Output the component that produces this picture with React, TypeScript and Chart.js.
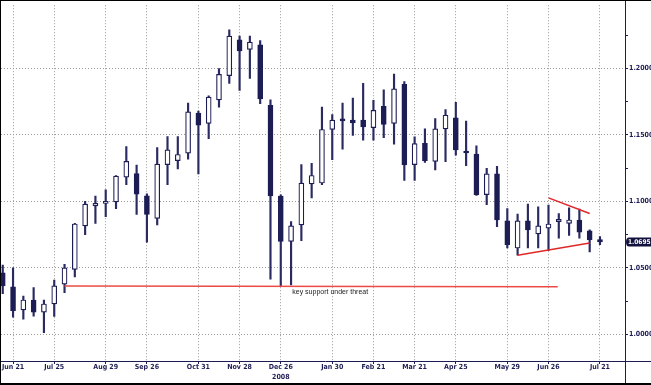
import React, { useEffect, useRef } from 'react';
import { Chart, registerables } from 'chart.js';

Chart.register(...registerables);

// ---- data ----
const TICK_INDEX = [1, 5, 10, 14, 19, 23, 27, 32, 36, 40, 44, 49, 53, 58];
const TICK_LABELS = ['Jun 21', 'Jul 25', 'Aug 29', 'Sep 26', 'Oct 31', 'Nov 28', 'Dec 26', 'Jan 30', 'Feb 21', 'Mar 21', 'Apr 25', 'May 29', 'Jun 26', 'Jul 21'];
const YEAR_LABEL = '2008';
const YEAR_INDEX = 27;
const Y_TICKS = [1.0, 1.025, 1.05, 1.075, 1.1, 1.125, 1.15, 1.175, 1.2, 1.225];

const OPEN = [1.0463, 1.0357, 1.0184, 1.0258, 1.0166, 1.0228, 1.0377, 1.0488, 1.0816, 1.0966, 1.0984, 1.0996, 1.1182, 1.121, 1.1041, 1.0872, 1.1277, 1.1306, 1.1363, 1.1665, 1.1586, 1.1764, 1.1946, 1.2216, 1.2143, 1.2178, 1.1723, 1.1039, 1.0699, 1.0823, 1.1132, 1.1138, 1.1541, 1.1616, 1.1611, 1.1611, 1.1554, 1.1715, 1.1586, 1.1881, 1.1277, 1.1437, 1.1301, 1.1546, 1.1628, 1.1372, 1.1355, 1.1051, 1.1207, 1.0853, 1.0649, 1.0853, 1.0756, 1.0798, 1.0847, 1.0835, 1.086, 1.0778, 1.0712];
const HIGH = [1.052, 1.05, 1.0288, 1.0352, 1.0258, 1.0407, 1.0526, 1.0835, 1.1001, 1.104, 1.1086, 1.1195, 1.1413, 1.1274, 1.1056, 1.1405, 1.1487, 1.1487, 1.174, 1.168, 1.1794, 1.2, 1.229, 1.2243, 1.2243, 1.221, 1.1764, 1.105, 1.0848, 1.1277, 1.1286, 1.171, 1.1653, 1.174, 1.1777, 1.1888, 1.176, 1.1839, 1.1958, 1.1901, 1.1485, 1.1546, 1.1623, 1.169, 1.1745, 1.1604, 1.1418, 1.1249, 1.1264, 1.0946, 1.0905, 1.0979, 1.0959, 1.0972, 1.0909, 1.0952, 1.0942, 1.0786, 1.0736];
const LOW = [1.0305, 1.0129, 1.0114, 1.0136, 1.0013, 1.0134, 1.0314, 1.0431, 1.0749, 1.0835, 1.0885, 1.0946, 1.1125, 1.0902, 1.0694, 1.0823, 1.1125, 1.1244, 1.1318, 1.1207, 1.1472, 1.1708, 1.1888, 1.1834, 1.1926, 1.1735, 1.0414, 1.0364, 1.0372, 1.0704, 1.1026, 1.1125, 1.1314, 1.1393, 1.1497, 1.146, 1.146, 1.148, 1.143, 1.1158, 1.1158, 1.1294, 1.1236, 1.1299, 1.1348, 1.1269, 1.1045, 1.0976, 1.081, 1.0649, 1.0595, 1.0649, 1.0649, 1.063, 1.0723, 1.0743, 1.0723, 1.0619, 1.0674];
const CLOSE = [1.0364, 1.0178, 1.0258, 1.0166, 1.0228, 1.0364, 1.05, 1.083, 1.0979, 1.0985, 1.1001, 1.119, 1.1301, 1.1054, 1.0902, 1.1281, 1.1388, 1.1353, 1.1673, 1.1574, 1.1784, 1.1955, 1.2243, 1.2132, 1.2199, 1.177, 1.1041, 1.0699, 1.0816, 1.1138, 1.1195, 1.1541, 1.1611, 1.1606, 1.1591, 1.1561, 1.1685, 1.1579, 1.1846, 1.1274, 1.1435, 1.1306, 1.1546, 1.1648, 1.1388, 1.1364, 1.1051, 1.1207, 1.086, 1.0674, 1.0853, 1.0786, 1.0816, 1.083, 1.0865, 1.086, 1.0768, 1.0712, 1.0695];

const SUPPORT_X = [6, 53.9];
const SUPPORT_Y = [1.0364, 1.0357];
const TRI_LOW_X = [50, 57];
const TRI_LOW_Y = [1.0595, 1.0686];
const TRI_HIGH_X = [53, 57];
const TRI_HIGH_Y = [1.1026, 1.0909];

const NOTE_TEXT = 'key support under threat';
const NOTE_X = 31.8;
const NOTE_Y = 1.0315;

const X_MIN = -0.17;
const X_MAX = 60.43;
const Y_MIN = 0.9799;
const Y_MAX = 1.2476;

const NAVY = '#1d1d55';
const FONT = '"Liberation Sans Narrow", "DejaVu Sans Condensed", "Liberation Sans", Arial, sans-serif';

const INDEX = OPEN.map((_, i) => i);

const isMajor = (v: number) => Math.round(v * 1000) % 50 === 0;

const decorPlugin = {
  id: 'decor',
  afterDraw(chart: any) {
    const { ctx, chartArea, scales } = chart;
    const W = chart.width;
    const H = chart.height;
    ctx.save();
    // axis lines
    ctx.strokeStyle = NAVY;
    ctx.lineWidth = 1;
    ctx.beginPath();
    ctx.moveTo(Math.round(chartArea.right) + 0.5, 0);
    ctx.lineTo(Math.round(chartArea.right) + 0.5, H);
    ctx.moveTo(0, Math.round(chartArea.bottom) + 0.5);
    ctx.lineTo(W, Math.round(chartArea.bottom) + 0.5);
    ctx.stroke();
    // frame
    ctx.fillStyle = '#000';
    ctx.fillRect(0, 0, W, 1);
    ctx.fillRect(0, 0, 1, H);
    ctx.fillRect(0, H - 2, W, 2);
    // note
    ctx.fillStyle = '#222';
    ctx.font = '7px "Liberation Sans", Arial, sans-serif';
    ctx.textAlign = 'center';
    ctx.textBaseline = 'middle';
    ctx.fillText(NOTE_TEXT, scales.x.getPixelForValue(NOTE_X), scales.y.getPixelForValue(NOTE_Y));
    // year
    ctx.fillStyle = NAVY;
    ctx.font = 'bold 7px ' + FONT;
    ctx.fillText(YEAR_LABEL, scales.x.getPixelForValue(YEAR_INDEX), H - 8);
    // last price label
    const last = CLOSE[CLOSE.length - 1];
    const py = scales.y.getPixelForValue(last);
    const bx = chartArea.right + 1;
    const bh = 9;
    ctx.fillStyle = '#12123e';
    ctx.beginPath();
    ctx.moveTo(bx + 3, py - bh / 2);
    ctx.lineTo(W, py - bh / 2);
    ctx.lineTo(W, py + bh / 2);
    ctx.lineTo(bx + 3, py + bh / 2);
    ctx.quadraticCurveTo(bx, py + bh / 2, bx, py);
    ctx.quadraticCurveTo(bx, py - bh / 2, bx + 3, py - bh / 2);
    ctx.fill();
    ctx.fillStyle = '#fff';
    ctx.textAlign = 'left';
    ctx.font = 'bold 6.5px ' + FONT;
    ctx.fillText(last.toFixed(4), bx + 2, py + 0.5);
    ctx.restore();
  },
};

export default function App() {
  const ref = useRef<HTMLCanvasElement | null>(null);
  useEffect(() => {
    if (!ref.current) return;
    const chart = new Chart(ref.current, {
      type: 'bar',
      data: {
        datasets: [
          {
            type: 'line',
            label: 'support',
            data: SUPPORT_X.map((x, i) => ({ x, y: SUPPORT_Y[i] })),
            borderColor: '#ec4a44',
            borderWidth: 1.5,
            pointRadius: 0,
            order: 0,
          } as any,
          {
            type: 'line',
            label: 'triLow',
            data: TRI_LOW_X.map((x, i) => ({ x, y: TRI_LOW_Y[i] })),
            borderColor: '#e02828',
            borderWidth: 1.5,
            pointRadius: 0,
            order: 0,
          } as any,
          {
            type: 'line',
            label: 'triHigh',
            data: TRI_HIGH_X.map((x, i) => ({ x, y: TRI_HIGH_Y[i] })),
            borderColor: '#e02828',
            borderWidth: 1.5,
            pointRadius: 0,
            order: 0,
          } as any,
          {
            label: 'body',
            data: INDEX.map((i) => ({ x: i, y: [Math.min(OPEN[i], CLOSE[i]), Math.max(OPEN[i], CLOSE[i])] })),
            backgroundColor: INDEX.map((i) => (CLOSE[i] >= OPEN[i] ? '#ffffff' : NAVY)),
            borderColor: NAVY,
            borderWidth: 1.2,
            borderSkipped: false,
            barThickness: 5,
            minBarLength: 2,
            grouped: false,
            order: 1,
          } as any,
          {
            label: 'wick',
            data: INDEX.map((i) => ({ x: i, y: [LOW[i], HIGH[i]] })),
            backgroundColor: '#2a2a62',
            borderWidth: 0,
            barThickness: 1.5,
            grouped: false,
            order: 2,
          } as any,
        ],
      },
      options: {
        responsive: false,
        animation: false,
        layout: { padding: { top: 1, left: 1, right: 0, bottom: 0 } },
        plugins: { legend: { display: false }, tooltip: { enabled: false } },
        scales: {
          x: {
            type: 'linear',
            min: X_MIN,
            max: X_MAX,
            offset: false,
            afterBuildTicks: (scale: any) => {
              scale.ticks = TICK_INDEX.map((v) => ({ value: v }));
            },
            afterFit: (scale: any) => {
              scale.height = 24;
            },
            grid: {
              offset: false,
              color: '#9a9a9a',
              lineWidth: 1,
              tickLength: 3,
              tickColor: NAVY,
            },
            border: { display: false, dash: [1, 2] },
            ticks: {
              autoSkip: false,
              maxRotation: 0,
              padding: -1,
              color: NAVY,
              font: { family: FONT, size: 7, weight: 'bold' },
              callback: (v: any) => {
                const k = TICK_INDEX.indexOf(Number(v));
                return k >= 0 ? TICK_LABELS[k] : '';
              },
            },
          },
          y: {
            type: 'linear',
            position: 'right',
            min: Y_MIN,
            max: Y_MAX,
            afterBuildTicks: (scale: any) => {
              scale.ticks = Y_TICKS.map((v) => ({ value: v }));
            },
            afterFit: (scale: any) => {
              scale.width = 26;
            },
            grid: {
              color: (c: any) => (c.tick && isMajor(c.tick.value) ? '#9a9a9a' : 'rgba(0,0,0,0)'),
              lineWidth: 1,
              tickLength: 3,
              tickColor: NAVY,
            },
            border: { display: false, dash: [1, 2] },
            ticks: {
              padding: 1,
              color: NAVY,
              font: { family: FONT, size: 7, weight: 'bold' },
              callback: (v: any) => (isMajor(Number(v)) ? Number(v).toFixed(4) : ''),
            },
          },
        },
      } as any,
      plugins: [decorPlugin],
    });
    return () => chart.destroy();
  }, []);
  return (
    <div style={{ position: 'absolute', left: 0, top: 0, width: 651, height: 385, background: '#fff' }}>
      <canvas ref={ref} width={651} height={385} style={{ display: 'block' }} />
    </div>
  );
}
